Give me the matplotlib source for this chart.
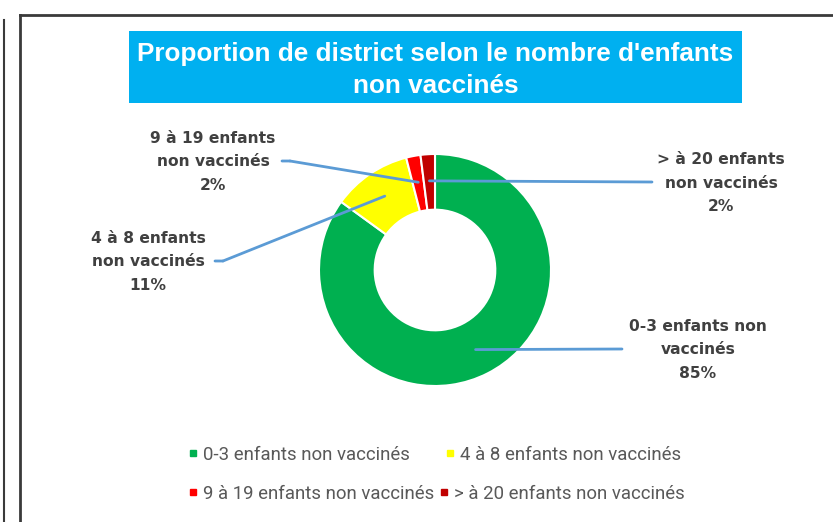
import matplotlib
matplotlib.use('Agg')
import matplotlib.pyplot as plt
import numpy as np
from matplotlib.patches import Rectangle
from matplotlib.lines import Line2D
from matplotlib import font_manager

# ---------------- data ----------------
categories = ['0-3 enfants non vaccinés', '4 à 8 enfants non vaccinés',
              '9 à 19 enfants non vaccinés', '> à 20 enfants non vaccinés']
values = [85, 11, 2, 2]
label_texts = ['0-3 enfants non\nvaccinés', '4 à 8 enfants\nnon vaccinés',
               '9 à 19 enfants\nnon vaccinés', '> à 20 enfants\nnon vaccinés']
colors = ['#00B050', '#FFFF00', '#FF0000', '#C00000']
title = "Proportion de district selon le nombre d'enfants\nnon vaccinés"

# ---------------- layout ----------------
W, H = 833, 522
fig = plt.figure(figsize=(W / 100, H / 100), dpi=100)
fig.patch.set_facecolor('white')


def fp(x, y):
    """top-left pixel coords -> figure fraction"""
    return (x / W, 1 - y / H)


def has_font(name):
    try:
        font_manager.findfont(name, fallback_to_default=False)
        return True
    except Exception:
        return False


legend_family = 'Roboto' if has_font('Roboto') else 'DejaVu Sans'
title_family = 'Liberation Sans'
label_family = 'DejaVu Sans'

# frame lines
line_col = '#3a3a3a'
fig.add_artist(Line2D([20 / W, 1], [1 - 15 / H] * 2, color=line_col, lw=2, transform=fig.transFigure))
fig.add_artist(Line2D([20 / W] * 2, [1 - 15 / H, 0], color=line_col, lw=2, transform=fig.transFigure))
fig.add_artist(Line2D([4 / W] * 2, [1 - 20 / H, 0], color=line_col, lw=1.5, transform=fig.transFigure))

# title box
x0, y0 = fp(129, 103)
fig.add_artist(Rectangle((x0, y0), (742 - 129) / W, (103 - 31) / H,
                         transform=fig.transFigure, facecolor='#00B0F0', edgecolor='none'))
fig.text(*fp(435.5, 70), title, ha='center', va='center', color='white',
         fontsize=18.8, fontweight='bold', family=title_family, linespacing=1.4)

# donut
cx, cy, R = 435, 270, 116
ax = fig.add_axes([(cx - R) / W, (H - cy - R) / H, 2 * R / W, 2 * R / H])
wedges, _ = ax.pie(values, colors=colors, startangle=90, counterclock=False, radius=1,
                   wedgeprops=dict(width=0.48, edgecolor='white', linewidth=1.5))
ax.set_xlim(-1, 1)
ax.set_ylim(-1, 1)
ax.axis('off')

# data labels with leader lines
label_pos = [(698, 350), (148, 262), (213, 162), (721, 183)]
leader_start = [[(622, 349)], [(215, 261), (223, 261)], [(282, 161), (290, 161)], [(652, 182)]]
lead_col = '#5B9BD5'
for w, v, txt, pos, pts in zip(wedges, values, label_texts, label_pos, leader_start):
    th = np.deg2rad((w.theta1 + w.theta2) / 2)
    anchor = (0.77 * np.cos(th), 0.77 * np.sin(th))
    fig.text(*fp(*pos), f"{txt}\n{v}%", ha='center', va='center', color='#404040',
             fontsize=11.2, fontweight='bold', family=label_family, linespacing=1.7)
    if len(pts) == 2:
        ax.annotate('', xy=(pts[1][0], H - pts[1][1]), xycoords='figure pixels',
                    xytext=(pts[0][0], H - pts[0][1]), textcoords='figure pixels',
                    arrowprops=dict(arrowstyle='-', color=lead_col, lw=2, shrinkA=0, shrinkB=0),
                    annotation_clip=False)
    last = pts[-1]
    ax.annotate('', xy=anchor, xycoords='data',
                xytext=(last[0], H - last[1]), textcoords='figure pixels',
                arrowprops=dict(arrowstyle='-', color=lead_col, lw=2, shrinkA=0, shrinkB=0),
                annotation_clip=False)

# legend (two rows, Excel-like ordering)
leg_size = 13.4
em = leg_size * 100 / 72
handles = [Line2D([], [], marker='s', color=c, linestyle='None', markersize=4.5) for c in colors]
rows = [((0, 1), 455, 36), ((2, 3), 494, 6)]
for idx, ry, colsp in rows:
    leg = fig.legend([handles[i] for i in idx], [categories[i] for i in idx],
                     loc='center left', bbox_to_anchor=fp(189, ry), ncol=2, frameon=False,
                     handlelength=0.45, handletextpad=0.3, columnspacing=colsp / em,
                     borderpad=0, borderaxespad=0,
                     prop=dict(family=legend_family, size=leg_size))
    for t in leg.get_texts():
        t.set_color('#595959')

fig.savefig('out.png', dpi=100, facecolor='white')
